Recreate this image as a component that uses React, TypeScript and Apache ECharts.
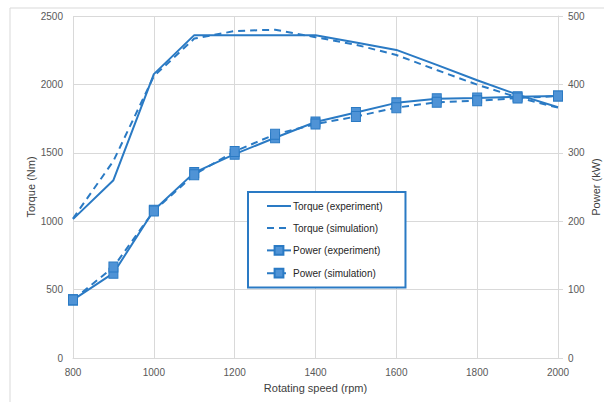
import React, { useEffect, useRef } from "react";
import * as echarts from "echarts";

const rpm = [800, 900, 1000, 1100, 1200, 1300, 1400, 1500, 1600, 1700, 1800, 1900, 2000];
const torqueExp = [1015, 1300, 2075, 2360, 2360, 2360, 2360, 2306, 2252, 2143, 2030, 1925, 1833];
const torqueSim = [1020, 1440, 2060, 2335, 2390, 2400, 2345, 2290, 2215, 2105, 1998, 1905, 1830];
const powerExp = [85, 124, 216, 271, 298, 322, 345, 359, 373, 379, 380, 382, 383];
const powerSim = [85, 133, 215, 268, 302, 327, 342, 353, 366, 374, 376, 380, 383];
const seriesNames = ["Torque (experiment)", "Torque (simulation)", "Power (experiment)", "Power (simulation)"];

const LINE = "#2A7AC4";
const FILL = "#4F93D6";
const GRID = "#D9D9D9";
const LABEL = "#595959";
const FONT = "Liberation Sans";

const pairs = (ys: number[]) => rpm.map((x, i) => [x, ys[i]]);

export default function App() {
  const ref = useRef<HTMLDivElement>(null);
  useEffect(() => {
    if (!ref.current) return;
    const chart = echarts.init(ref.current, null, { renderer: "svg" });
    const axisLabel = {
      color: LABEL,
      fontFamily: FONT,
      fontSize: 10,
      formatter: (v: number) => String(v),
    };
    const nameStyle = { color: "#404040", fontFamily: FONT, fontSize: 11 };
    chart.setOption({
      animation: false,
      backgroundColor: "#fff",
      textStyle: { fontFamily: FONT },
      graphic: [
        {
          type: "rect",
          shape: { x: 10, y: 8, width: 640, height: 440 },
          style: { fill: "none", stroke: GRID, lineWidth: 1 },
          silent: true,
          z: -1,
        },
      ],
      grid: { left: 73, right: 46, top: 16, bottom: 44, containLabel: false, outerBoundsMode: "none" },
      legend: {
        orient: "vertical",
        left: 248,
        top: 192,
        data: [
          { name: seriesNames[0], itemStyle: { opacity: 0 } },
          { name: seriesNames[1], itemStyle: { opacity: 0 } },
          { name: seriesNames[2] },
          { name: seriesNames[3] },
        ],
        itemWidth: 24,
        itemHeight: 11,
        itemGap: 12,
        padding: [9, 23, 9, 18],
        borderColor: LINE,
        borderWidth: 2,
        backgroundColor: "#fff",
        textStyle: { color: "#262626", fontFamily: FONT, fontSize: 10, padding: [0, 0, 0, -3] },
      },
      xAxis: {
        type: "value",
        min: 800,
        max: 2000,
        interval: 200,
        name: "Rotating speed (rpm)",
        nameLocation: "middle",
        nameGap: 24,
        nameTextStyle: nameStyle,
        axisLine: { show: true, lineStyle: { color: GRID } },
        axisTick: { show: false },
        axisLabel: { ...axisLabel, margin: 9 },
        splitLine: { show: true, lineStyle: { color: GRID } },
      },
      yAxis: [
        {
          type: "value",
          min: 0,
          max: 2500,
          interval: 500,
          name: "Torque (Nm)",
          nameLocation: "middle",
          nameGap: 37,
          nameMoveOverlap: false,
          nameTextStyle: nameStyle,
          axisLine: { show: false },
          axisTick: { show: false },
          axisLabel: { ...axisLabel, margin: 10 },
          splitLine: { show: true, lineStyle: { color: GRID } },
        },
        {
          type: "value",
          min: 0,
          max: 500,
          interval: 100,
          position: "right",
          name: "Power (kW)",
          nameLocation: "middle",
          nameGap: 32,
          nameMoveOverlap: false,
          nameRotate: 90,
          nameTextStyle: nameStyle,
          axisLine: { show: true, lineStyle: { color: GRID } },
          axisTick: { show: true, length: 5, lineStyle: { color: GRID } },
          axisLabel: { ...axisLabel, margin: 10 },
          splitLine: { show: false },
        },
      ],
      series: [
        {
          name: seriesNames[0],
          type: "line",
          yAxisIndex: 0,
          data: pairs(torqueExp),
          showSymbol: false,
          symbol: "none",
          lineStyle: { color: LINE, width: 2 },
          itemStyle: { color: LINE },
        },
        {
          name: seriesNames[1],
          type: "line",
          yAxisIndex: 0,
          data: pairs(torqueSim),
          showSymbol: false,
          symbol: "none",
          lineStyle: { color: LINE, width: 2, type: [7, 5] },
          itemStyle: { color: LINE },
        },
        {
          name: seriesNames[2],
          type: "line",
          yAxisIndex: 1,
          data: pairs(powerExp),
          symbol: "rect",
          symbolSize: [9, 10],
          lineStyle: { color: LINE, width: 2 },
          itemStyle: { color: FILL, borderColor: LINE, borderWidth: 1 },
        },
        {
          name: seriesNames[3],
          type: "line",
          yAxisIndex: 1,
          data: pairs(powerSim),
          symbol: "rect",
          symbolSize: [9, 10],
          lineStyle: { color: LINE, width: 2, type: [7, 5] },
          itemStyle: { color: FILL, borderColor: LINE, borderWidth: 1 },
        },
      ],
    });
    return () => chart.dispose();
  }, []);
  return (
    <div
      ref={ref}
      style={{ position: "fixed", left: 0, top: 0, width: 604, height: 402 }}
    />
  );
}
